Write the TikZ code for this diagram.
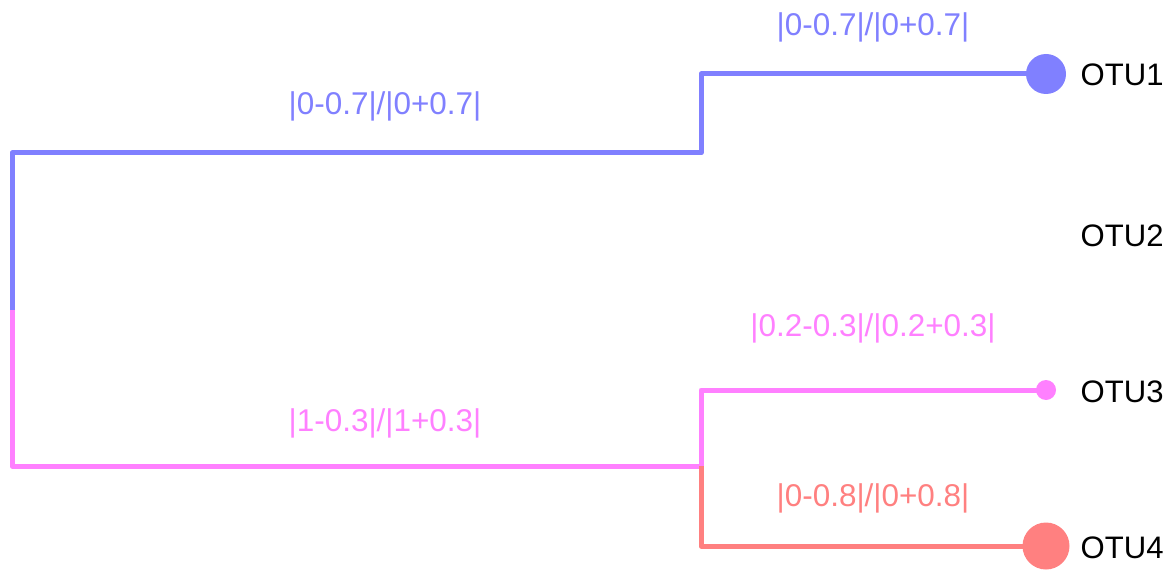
\documentclass[tikz,border=0pt]{standalone}
\usepackage{fontspec}
\setmainfont{Liberation Sans}
\usetikzlibrary{positioning}
\definecolor{lilac}{RGB}{128,128,255}
\definecolor{orchid}{RGB}{255,128,255}
\definecolor{salmon}{RGB}{255,128,128}
\tikzset{
  branch/.style={draw=#1,line width=3.75pt,line join=round},
  branch/.default=lilac,
  tip/.style={circle,fill=#1,inner sep=0pt},
  otu/.style={anchor=west,font=\fontsize{23.3}{27}\selectfont,text=black},
  ratio/.style={font=\fontsize{23.6}{27}\selectfont,text=#1},
}

\begin{document}
\begin{tikzpicture}[x=0.75pt,y=-0.75pt]
    \useasboundingbox (0,0) rectangle (1173,570);
    % internal nodes and tips
    \coordinate (root) at (12,310);
    \coordinate (up) at (701,153);
    \coordinate (low) at (701,466);
    \coordinate (t1) at (1046,74);
    \coordinate (t2) at (1046,235);
    \coordinate (t3) at (1046,390);
    \coordinate (t4) at (1046,546);
    \draw[branch=lilac] (root) |- (up) |- (t1);
    \draw[branch=orchid] (root) |- (low) |- (t3);
    \draw[branch=salmon] (low) |- (t4);
    \node[tip=lilac,minimum size=40pt*0.75] (d1) at (t1) {};
    \node[tip=orchid,minimum size=20pt*0.75] (d3) at (t3) {};
    \node[tip=salmon,minimum size=47pt*0.75] (d4) at (t4) {};
    \foreach \i/\y in {1/75,2/236,3/392,4/548}
      \node[otu] (otu\i) at (1076,\y) {OTU\i};
    \node[ratio=lilac] (r1) at (873,27) {|0-0.7|/|0+0.7|};
    \node[ratio=lilac] (rup) at (385,106) {|0-0.7|/|0+0.7|};
    \node[ratio=orchid] (rlow) at (385,423) {|1-0.3|/|1+0.3|};
    \node[ratio=orchid] (r3) at (873,328) {|0.2-0.3|/|0.2+0.3|};
    \node[ratio=salmon] (r4) at (873,498) {|0-0.8|/|0+0.8|};
  \end{tikzpicture}
\end{document}
